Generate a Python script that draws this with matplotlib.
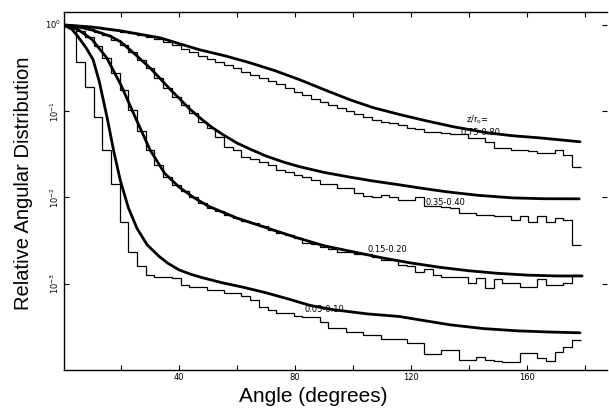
import numpy as np
import matplotlib
matplotlib.use("Agg")
import matplotlib.pyplot as plt
from matplotlib.ticker import FixedLocator, NullFormatter

# ---------------- data ----------------
bin_edges = np.arange(-1.5, 180, 3.0)   # angle bins (degrees), 60 bins

# histograms (log10 of relative angular distribution)
hist_075_log = [0, 0, -0.01, -0.02, -0.03, -0.05, -0.06, -0.08, -0.09, -0.12,
                -0.14, -0.16, -0.20, -0.23, -0.28, -0.31, -0.36, -0.39, -0.43, -0.46,
                -0.50, -0.55, -0.58, -0.61, -0.65, -0.68, -0.73, -0.78, -0.81, -0.86,
                -0.89, -0.93, -0.96, -1.00, -1.03, -1.07, -1.10, -1.12, -1.14, -1.16,
                -1.19, -1.21, -1.24, -1.24, -1.25, -1.27, -1.27, -1.31, -1.31, -1.36,
                -1.43, -1.43, -1.45, -1.45, -1.46, -1.48, -1.48, -1.45, -1.51, -1.65]
hist_035_log = [0, -0.01, -0.03, -0.05, -0.08, -0.12, -0.17, -0.23, -0.32, -0.41,
                -0.50, -0.62, -0.73, -0.84, -0.93, -1.02, -1.12, -1.20, -1.30, -1.42,
                -1.45, -1.53, -1.56, -1.59, -1.62, -1.68, -1.70, -1.74, -1.76, -1.80,
                -1.84, -1.84, -1.89, -1.89, -1.95, -1.98, -2.00, -1.97, -2.00, -2.03,
                -2.03, -1.99, -2.10, -2.10, -2.11, -2.12, -2.18, -2.18, -2.20, -2.20,
                -2.22, -2.22, -2.26, -2.21, -2.28, -2.21, -2.28, -2.24, -2.26, -2.55]
hist_015_log = [0, -0.02, -0.07, -0.14, -0.24, -0.38, -0.56, -0.76, -0.99, -1.23,
                -1.45, -1.62, -1.76, -1.86, -1.93, -2.00, -2.06, -2.12, -2.16, -2.20,
                -2.24, -2.27, -2.30, -2.33, -2.38, -2.41, -2.44, -2.47, -2.53, -2.54,
                -2.57, -2.60, -2.63, -2.63, -2.65, -2.66, -2.69, -2.72, -2.72, -2.78,
                -2.80, -2.86, -2.83, -2.90, -2.92, -2.92, -2.92, -2.99, -2.93, -3.05,
                -2.95, -2.99, -2.99, -3.04, -3.04, -2.94, -3.01, -3.01, -2.99, -2.90]
hist_005_log = [0, 0, -0.43, -0.72, -1.07, -1.45, -1.85, -2.29, -2.63, -2.80,
                -2.90, -2.92, -2.92, -2.93, -3.01, -3.04, -3.04, -3.07, -3.07, -3.11,
                -3.11, -3.14, -3.19, -3.27, -3.30, -3.34, -3.34, -3.37, -3.38, -3.38,
                -3.44, -3.51, -3.51, -3.56, -3.56, -3.59, -3.59, -3.64, -3.64, -3.64,
                -3.69, -3.69, -3.81, -3.82, -3.77, -3.77, -3.88, -3.88, -3.85, -3.88,
                -3.89, -3.91, -3.91, -3.80, -3.80, -3.86, -3.90, -3.79, -3.73, -3.65]

# smooth calculated curves (angle, log10 value)
curve_075_angle = [0, 10, 20, 33.4, 47.2, 56, 64.5, 73, 81.7, 90, 99, 107, 116.2, 125,
                   134.5, 146.2, 155, 164.5, 178.3]
curve_075_log = [0, -0.025, -0.07, -0.15, -0.29, -0.36, -0.44, -0.53, -0.637, -0.75,
                 -0.869, -0.96, -1.04, -1.11, -1.18, -1.25, -1.285, -1.31, -1.355]
curve_035_angle = [0, 5, 10, 16.2, 20, 24.8, 30, 33.4, 37, 40, 43.5, 47.2, 51, 55, 60,
                   64.5, 70, 76, 81.7, 90, 99, 107, 116, 124, 132.4, 143, 155, 166, 178]
curve_035_log = [0, -0.02, -0.06, -0.13, -0.20, -0.34, -0.50, -0.62, -0.75, -0.85,
                 -0.97, -1.078, -1.18, -1.27, -1.37, -1.44, -1.52, -1.59, -1.645, -1.71,
                 -1.765, -1.81, -1.854, -1.895, -1.935, -1.975, -2.005, -2.015, -2.016]
curve_015_angle = [0, 5, 10, 15, 20, 25, 30, 35, 40, 45, 50, 55, 60, 70, 80, 90, 100,
                   110, 120, 130, 140, 150, 160, 170, 179]
curve_015_log = [0, -0.05, -0.17, -0.38, -0.70, -1.08, -1.45, -1.72, -1.88, -2.00,
                 -2.10, -2.17, -2.24, -2.35, -2.46, -2.56, -2.63, -2.70, -2.76, -2.81,
                 -2.85, -2.88, -2.90, -2.91, -2.91]
curve_005_angle = [0, 3, 5, 8, 10.3, 12.5, 15.2, 17.5, 19.7, 22.5, 25.5, 29, 33, 36,
                   40, 44, 48, 55, 62, 70, 78, 85, 93, 105, 116, 125, 133.4, 145, 156.6,
                   168, 178.3]
curve_005_log = [0, -0.05, -0.13, -0.27, -0.40, -0.66, -1.08, -1.47, -1.80, -2.12,
                 -2.36, -2.55, -2.68, -2.76, -2.84, -2.89, -2.93, -2.99, -3.04, -3.105,
                 -3.18, -3.25, -3.30, -3.35, -3.38, -3.43, -3.476, -3.52, -3.546, -3.56,
                 -3.569]

range_labels = ["0.75-0.80", "0.35-0.40", "0.15-0.20", "0.05-0.10"]
x_major_ticks = [40, 80, 120, 160]
x_minor_ticks = [20, 60, 100, 140, 180]
y_ticks = [1e-3, 1e-2, 1e-1, 1.0]
y_ticklabels = [r"$10^{-3}$", r"$10^{-2}$", r"$10^{-1}$", r"$10^{0}$"]

# ---------------- plot ----------------
W, H = 609, 416
fig = plt.figure(figsize=(W / 100, H / 100), dpi=100)
ax = fig.add_axes([64 / W, 1 - 370 / H, (607 - 64) / W, (370 - 12) / H])
ax.set_yscale("log")
ax.set_xlim(0.3, 187.6)
ax.set_ylim(1e-4, 1.41)

for h in (hist_075_log, hist_035_log, hist_015_log, hist_005_log):
    ax.stairs(10 ** np.array(h), bin_edges, baseline=None, color="black", lw=0.9)

for a, l in ((curve_075_angle, curve_075_log), (curve_035_angle, curve_035_log),
             (curve_015_angle, curve_015_log), (curve_005_angle, curve_005_log)):
    ax.plot(a, 10 ** np.array(l), color="black", lw=2.0,
            solid_joinstyle="round", solid_capstyle="round")

lab_kw = dict(fontsize=6, ha="center", va="center", family="DejaVu Sans", color="black")
ax.text(142.8, 10 ** -1.10, r"z/r$_{\mathregular{o}}$=", **lab_kw)
ax.text(143.8, 10 ** -1.25, range_labels[0], **lab_kw)
ax.text(132.0, 10 ** -2.06, range_labels[1], **lab_kw)
ax.text(111.7, 10 ** -2.60, range_labels[2], **lab_kw)
ax.text(90.0, 10 ** -3.30, range_labels[3], **lab_kw)

# ticks
ax.xaxis.set_major_locator(FixedLocator(x_major_ticks))
ax.xaxis.set_minor_locator(FixedLocator(x_minor_ticks))
ax.xaxis.set_minor_formatter(NullFormatter())
ax.set_xticklabels([str(t) for t in x_major_ticks])
ax.yaxis.set_major_locator(FixedLocator(y_ticks))
ax.yaxis.set_minor_locator(FixedLocator([]))
ax.set_yticklabels(y_ticklabels)
ax.tick_params(axis="both", which="both", direction="in", top=True, right=True,
               length=3.5, width=0.8, labelsize=6, pad=2)
for lbl in ax.get_yticklabels():
    if "{0}" not in lbl.get_text():
        lbl.set_rotation(90)
    lbl.set_va("center")

for s in ("left", "bottom", "top"):
    ax.spines[s].set_linewidth(1.0)
ax.spines["right"].set_visible(False)

fig.text(24 / W, 1 - 183 / H, "Relative Angular Distribution", rotation=90,
         ha="center", va="center", fontsize=14.5, family="Liberation Sans")
fig.text(313 / W, 1 - 397 / H, "Angle (degrees)", ha="center", va="center",
         fontsize=15, family="Liberation Sans")

fig.savefig("out.png", dpi=100)
